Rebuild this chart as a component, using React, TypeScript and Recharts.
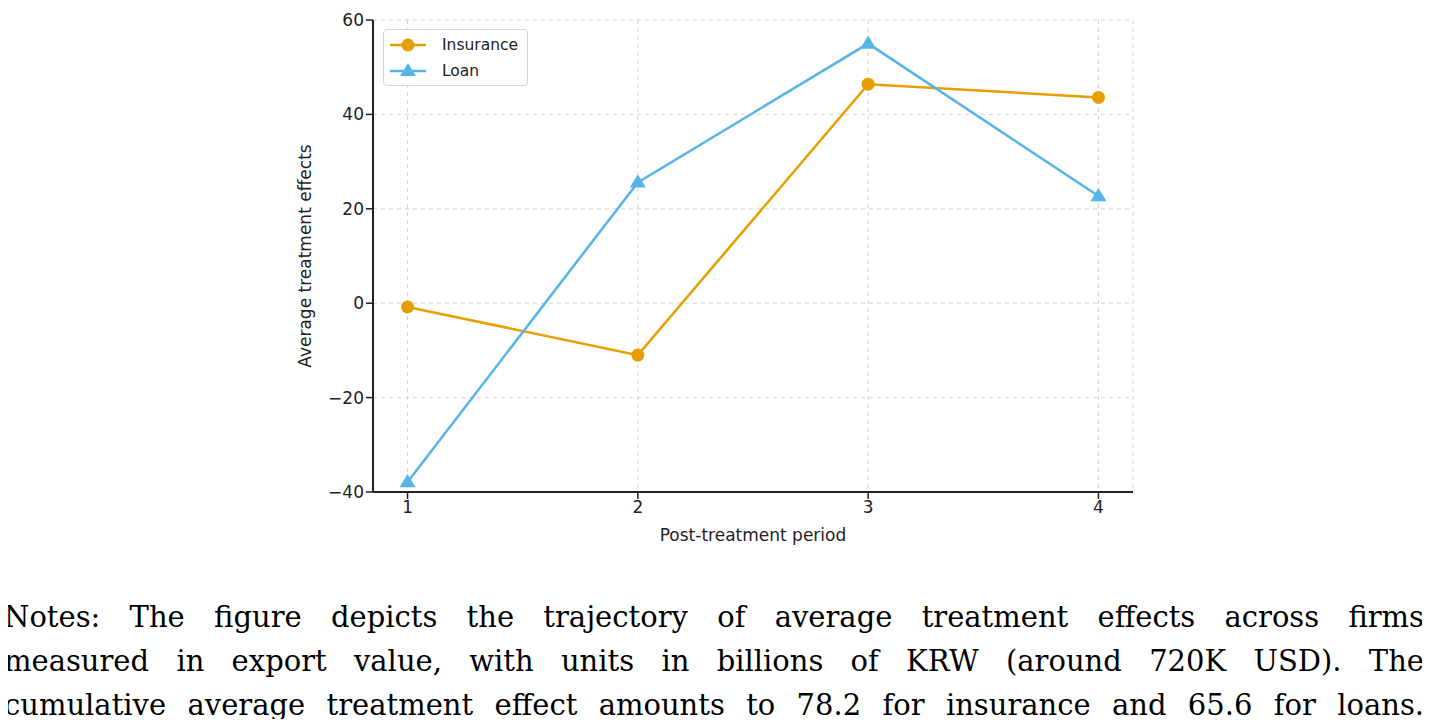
import { LineChart, Line, XAxis, YAxis, CartesianGrid } from "recharts";

const periods = [1, 2, 3, 4];
const insurance = [-0.8, -11, 46.4, 43.6];
const loan = [-37.9, 25.6, 55, 22.7];
const yTicks = [-40, -20, 0, 20, 40, 60];

const ORANGE = "#E69F00";
const BLUE = "#56B4E9";

const noteLines = [
  "Notes:  The figure depicts the trajectory of average treatment effects across firms",
  "measured in export value, with units in billions of KRW (around 720K USD). The",
  "cumulative average treatment effect amounts to 78.2 for insurance and 65.6 for loans.",
];

const data = periods.map((p, i) => ({
  period: p,
  Insurance: insurance[i],
  Loan: loan[i],
}));

const fmtMinus = (v: number) => String(v).replace("-", "\u2212");

function Triangle(props: any) {
  const { cx, cy } = props;
  if (cx == null || cy == null) return null;
  const s = 8;
  return (
    <polygon
      points={`${cx},${cy - s} ${cx - s},${cy + s * 0.65} ${cx + s},${cy + s * 0.65}`}
      fill={BLUE}
    />
  );
}

function LegendBox() {
  const item = (label: string, color: string, marker: "circle" | "tri") => (
    <div style={{ display: "flex", alignItems: "center", height: 26 }}>
      <svg width={42} height={20}>
        <line x1={2} y1={10} x2={38} y2={10} stroke={color} strokeWidth={2.5} />
        {marker === "circle" ? (
          <circle cx={20} cy={10} r={6.5} fill={color} />
        ) : (
          <polygon points="20,2 12,15 28,15" fill={color} />
        )}
      </svg>
      <span style={{ marginLeft: 12, color: "#222" }}>{label}</span>
    </div>
  );
  return (
    <div
      style={{
        position: "absolute",
        left: 383,
        top: 29,
        boxSizing: "border-box",
        width: 145,
        height: 57,
        border: "1px solid #d6d6d6",
        borderRadius: 4,
        background: "#fff",
        padding: "2px 6px 2px 4px",
        fontFamily: "DejaVu Sans",
        fontSize: 15.5,
      }}
    >
      {item("Insurance", ORANGE, "circle")}
      {item("Loan", BLUE, "tri")}
    </div>
  );
}

export default function App() {
  return (
    <div style={{ position: "relative", width: 1430, height: 727, margin: -8, background: "#fff", overflow: "hidden" }}>
      <LineChart
        width={1430}
        height={560}
        data={data}
        margin={{ top: 20, right: 297, left: 293, bottom: 18 }}
      >
        <CartesianGrid stroke="#d4d4d4" strokeDasharray="4 4" />
        <XAxis
          dataKey="period"
          type="number"
          domain={[0.85, 4.15]}
          ticks={periods}
          height={50}
          axisLine={{ stroke: "#222", strokeWidth: 2 }}
          tickLine={{ stroke: "#222", strokeWidth: 1.5 }}
          tickSize={7}
          tick={{ fill: "#222", fontSize: 17, fontFamily: "DejaVu Sans" }}
          label={{
            content: () => (
              <text x={753} y={541} textAnchor="middle" fill="#222" fontSize={17} fontFamily="DejaVu Sans">
                Post-treatment period
              </text>
            ),
          }}
        />
        <YAxis
          type="number"
          domain={[-40, 60]}
          ticks={yTicks}
          width={80}
          tickFormatter={fmtMinus}
          axisLine={{ stroke: "#222", strokeWidth: 2 }}
          tickLine={{ stroke: "#222", strokeWidth: 1.5 }}
          tickSize={7}
          tick={{ fill: "#222", fontSize: 17, fontFamily: "DejaVu Sans" }}
          label={{
            content: () => (
              <text
                x={311}
                y={256}
                transform="rotate(-90 311 256)"
                textAnchor="middle"
                fill="#222"
                fontSize={17}
                fontFamily="DejaVu Sans"
              >
                Average treatment effects
              </text>
            ),
          }}
        />
        <Line
          dataKey="Insurance"
          stroke={ORANGE}
          strokeWidth={2.5}
          dot={{ r: 6.5, fill: ORANGE, stroke: ORANGE, strokeWidth: 0 }}
          activeDot={false}
          isAnimationActive={false}
        />
        <Line
          dataKey="Loan"
          stroke={BLUE}
          strokeWidth={2.5}
          dot={<Triangle />}
          activeDot={false}
          isAnimationActive={false}
        />
      </LineChart>
      <LegendBox />
      <div
        style={{
          position: "absolute",
          left: 4,
          top: 595,
          width: 1420,
          fontFamily: "DejaVu Serif",
          fontSize: 29,
          lineHeight: "44px",
          color: "#000",
        }}
      >
        {noteLines.map((l, i) => (
          <div key={i} style={{ textAlign: "justify", textAlignLast: "justify" }}>
            {l}
          </div>
        ))}
      </div>
    </div>
  );
}
